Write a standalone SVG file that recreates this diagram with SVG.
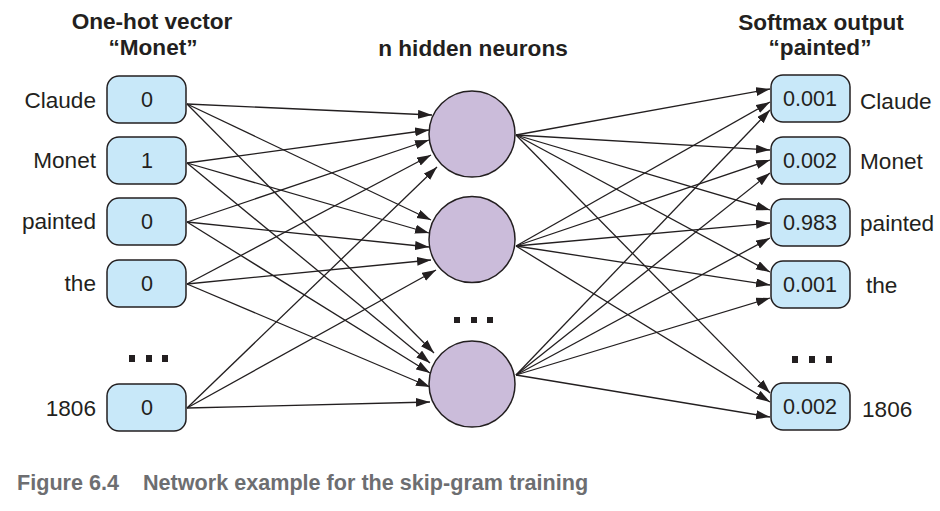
<svg xmlns="http://www.w3.org/2000/svg" width="940" height="511" viewBox="0 0 940 511">
<style>
text{font-family:"Liberation Sans",Arial,sans-serif;fill:#231f20}
.t{font-size:22.6px;font-weight:bold;text-anchor:middle}
.lbl{font-size:22.6px}
.le{text-anchor:end}
.v{font-size:21.6px;text-anchor:middle}
.box{fill:#c8e8f9;stroke:#231f20;stroke-width:1.5}
.neu{fill:#cbbcda;stroke:#231f20;stroke-width:1.5}
.c line{stroke:#231f20;stroke-width:1.3;marker-end:url(#ah)}
.dot{fill:#231f20}
.cap{font-size:21.6px;font-weight:bold;fill:#6d6e71}
</style>
<defs>
<marker id="ah" markerUnits="userSpaceOnUse" markerWidth="15" markerHeight="10" refX="14" refY="4.5" orient="auto">
<path d="M0,0 L14,4.5 L0,9 z" fill="#231f20"/>
</marker>
</defs>
<rect width="940" height="511" fill="#fff"/>

<g id="titles">
<text class="t" x="152" y="29">One-hot vector</text>
<text class="t" x="153" y="55">“Monet”</text>
<text class="t" x="473" y="56">n hidden neurons</text>
<text class="t" x="821" y="30">Softmax output</text>
<text class="t" x="820" y="55">“painted”</text>
</g>

<g class="c" id="connectors">
<line x1="187" y1="104" x2="432" y2="115"/>
<line x1="187" y1="163" x2="429" y2="130"/>
<line x1="187" y1="222" x2="429" y2="140"/>
<line x1="187" y1="284" x2="431" y2="155"/>
<line x1="187" y1="408" x2="437" y2="167"/>
<line x1="187" y1="104" x2="431" y2="220"/>
<line x1="187" y1="163" x2="429" y2="233"/>
<line x1="187" y1="222" x2="429" y2="247"/>
<line x1="187" y1="284" x2="431" y2="260"/>
<line x1="187" y1="408" x2="436" y2="270"/>
<line x1="187" y1="104" x2="434" y2="353"/>
<line x1="187" y1="163" x2="430" y2="363"/>
<line x1="187" y1="222" x2="430" y2="373"/>
<line x1="187" y1="284" x2="430" y2="387"/>
<line x1="187" y1="408" x2="430" y2="402"/>
<line x1="516" y1="135" x2="770" y2="89"/>
<line x1="516" y1="135" x2="770" y2="150"/>
<line x1="516" y1="135" x2="770" y2="210"/>
<line x1="516" y1="135" x2="770" y2="272"/>
<line x1="516" y1="135" x2="770" y2="393"/>
<line x1="516" y1="246" x2="770" y2="102"/>
<line x1="516" y1="246" x2="770" y2="160"/>
<line x1="516" y1="246" x2="770" y2="223"/>
<line x1="516" y1="246" x2="770" y2="285"/>
<line x1="516" y1="246" x2="770" y2="402"/>
<line x1="516" y1="375" x2="770" y2="110"/>
<line x1="516" y1="375" x2="770" y2="173"/>
<line x1="516" y1="375" x2="770" y2="238"/>
<line x1="516" y1="375" x2="770" y2="298"/>
<line x1="516" y1="375" x2="770" y2="417"/>
</g>

<g id="in-claude"><text class="lbl le" x="96" y="108">Claude</text><rect class="box" x="107" y="76" width="79" height="47" rx="12"/><text class="v" x="147" y="107">0</text></g>
<g id="in-monet"><text class="lbl le" x="96" y="168">Monet</text><rect class="box" x="107" y="137" width="79" height="47" rx="12"/><text class="v" x="147" y="168">1</text></g>
<g id="in-painted"><text class="lbl le" x="96" y="229">painted</text><rect class="box" x="107" y="198" width="79" height="47" rx="12"/><text class="v" x="147" y="229">0</text></g>
<g id="in-the"><text class="lbl le" x="96" y="291">the</text><rect class="box" x="107" y="260" width="79" height="47" rx="12"/><text class="v" x="147" y="291">0</text></g>
<g id="in-dots"><rect class="dot" x="129" y="355" width="6" height="7"/><rect class="dot" x="146" y="355" width="6" height="7"/><rect class="dot" x="162" y="355" width="6" height="7"/></g>
<g id="in-1806"><text class="lbl le" x="96" y="416">1806</text><rect class="box" x="107" y="384" width="79" height="47" rx="12"/><text class="v" x="147" y="415">0</text></g>

<g id="h1"><circle class="neu" cx="472" cy="134" r="43"/></g>
<g id="h2"><circle class="neu" cx="472" cy="239.5" r="43"/></g>
<g id="h-dots"><rect class="dot" x="454" y="317" width="6" height="6"/><rect class="dot" x="471" y="317" width="6" height="6"/><rect class="dot" x="487" y="317" width="6" height="6"/></g>
<g id="h3"><circle class="neu" cx="472" cy="384" r="43"/></g>

<g id="out-claude"><rect class="box" x="771" y="75" width="79" height="47" rx="12"/><text class="v" x="810" y="106">0.001</text><text class="lbl" x="860" y="109">Claude</text></g>
<g id="out-monet"><rect class="box" x="771" y="137" width="79" height="47" rx="12"/><text class="v" x="810" y="168">0.002</text><text class="lbl" x="860" y="169">Monet</text></g>
<g id="out-painted"><rect class="box" x="771" y="199" width="79" height="47" rx="12"/><text class="v" x="810" y="230">0.983</text><text class="lbl" x="860" y="231">painted</text></g>
<g id="out-the"><rect class="box" x="771" y="261" width="79" height="47" rx="12"/><text class="v" x="810" y="292">0.001</text><text class="lbl" x="866" y="293">the</text></g>
<g id="out-dots"><rect class="dot" x="792" y="356" width="6" height="7"/><rect class="dot" x="809" y="356" width="6" height="7"/><rect class="dot" x="826" y="356" width="6" height="7"/></g>
<g id="out-1806"><rect class="box" x="771" y="383" width="79" height="47" rx="12"/><text class="v" x="810" y="414">0.002</text><text class="lbl" x="862" y="417">1806</text></g>

<g id="caption">
<text class="cap" x="17" y="490">Figure 6.4</text>
<text class="cap" x="143" y="490">Network example for the skip-gram training</text>
</g>
</svg>
